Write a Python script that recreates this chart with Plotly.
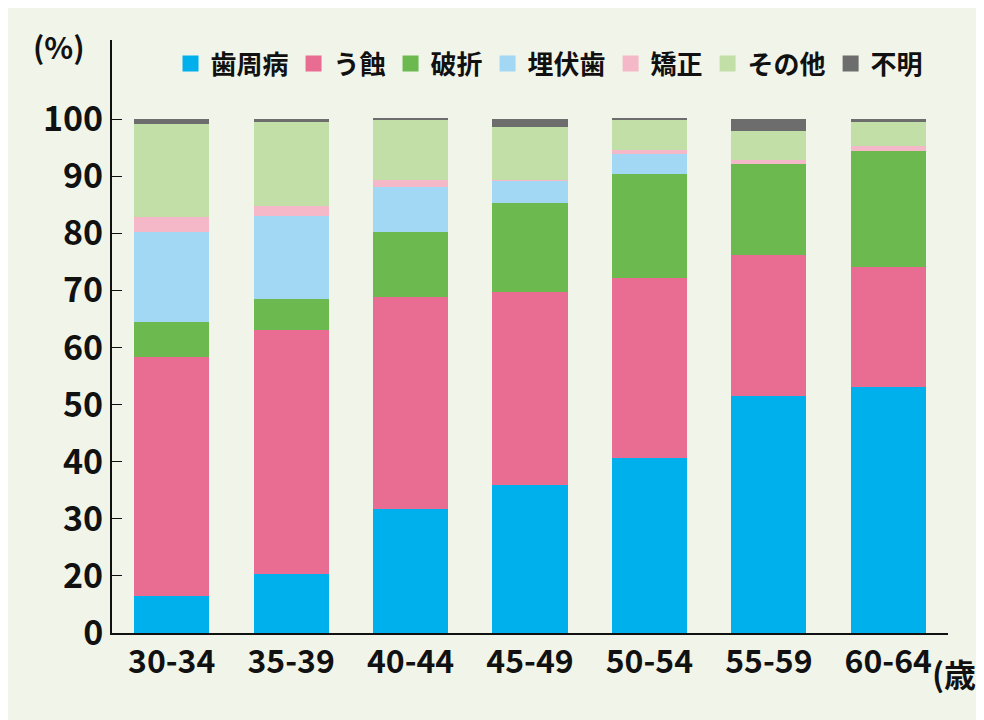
import plotly.graph_objects as go

# Datos (escala de las etiquetas del eje: la base del eje se rotula "0")
edades = ["30-34", "35-39", "40-44", "45-49", "50-54", "55-59", "60-64"]
categorias = ["歯周病", "う蝕", "破折", "埋伏歯", "矯正", "その他", "不明"]
colores = ["#00b0ec", "#e96d92", "#6cba4f", "#a2d8f4", "#f4b8c8", "#c2dfa8", "#6d6d6d"]

shishubyo = [16.4, 20.3, 31.7, 36.0, 40.6, 51.6, 53.1]
ushoku = [41.9, 42.8, 37.2, 33.7, 31.6, 24.6, 21.0]
hasetsu = [6.2, 5.4, 11.3, 15.6, 18.3, 16.0, 20.3]
maifukushi = [15.7, 14.6, 7.9, 3.9, 3.4, 0.0, 0.0]
kyosei = [2.7, 1.8, 1.3, 0.2, 0.7, 0.6, 0.9]
sonota = [16.3, 14.6, 10.4, 9.2, 5.2, 5.2, 4.2]
fumei = [0.8, 0.5, 0.5, 1.5, 0.5, 2.0, 0.5]

series = [shishubyo, ushoku, hasetsu, maifukushi, kyosei, sonota, fumei]
tick_vals = [10, 20, 30, 40, 50, 60, 70, 80, 90, 100]
tick_text = ["0", "20", "30", "40", "50", "60", "70", "80", "90", "100"]

fuente = "Noto Sans CJK JP"

fig = go.Figure()
for nombre, valores, color in zip(categorias, series, colores):
    fig.add_trace(go.Bar(x=edades, y=valores, name=nombre, marker_color=color,
                         marker_line_width=0, showlegend=False))
    # Entrada de leyenda con cuadrado grande
    fig.add_trace(go.Scatter(x=[None], y=[None], mode="markers", name=nombre,
                             marker=dict(symbol="square", size=24, color=color)))

fig.update_layout(
    barmode="stack",
    bargap=0.37,
    width=984, height=720,
    margin=dict(l=104, r=44, t=32, b=95),
    paper_bgcolor="#f1f5e9",
    plot_bgcolor="#f1f5e9",
    font=dict(family=fuente, size=30, color="#111"),
    legend=dict(orientation="h", x=0.07, y=1.0, xanchor="left", yanchor="top",
                font=dict(size=26, weight="bold"), traceorder="normal",
                itemwidth=30, tracegroupgap=0, bgcolor="rgba(0,0,0,0)"),
)
fig.update_xaxes(showline=True, linecolor="#111", linewidth=2, ticks="",
                 tickfont=dict(size=32, weight="bold"))
fig.update_yaxes(range=[10, 113.9], showline=True, linecolor="#111", linewidth=2,
                 ticks="inside", ticklen=10, tickcolor="#111", showgrid=False,
                 tickvals=tick_vals, ticktext=tick_text,
                 tickfont=dict(size=34, weight="bold"))
fig.add_annotation(text="(%)", xref="paper", yref="paper", x=-0.03, y=1.03,
                   xanchor="right", yanchor="top", showarrow=False,
                   font=dict(size=30, weight="bold"))
fig.add_annotation(text="(歳)", xref="paper", yref="paper", x=1.05, y=-0.025,
                   xanchor="right", yanchor="top", showarrow=False,
                   font=dict(size=32, weight="bold"))

fig.write_html("out.html")
